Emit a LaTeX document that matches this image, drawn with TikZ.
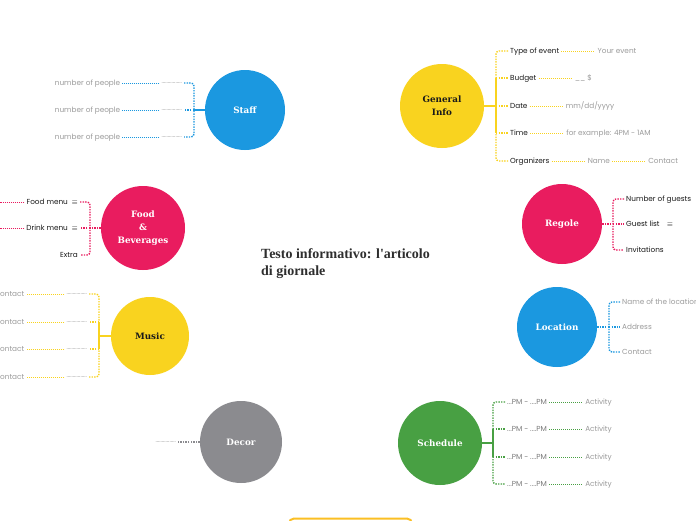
\documentclass[tikz,border=0pt]{standalone}
\usepackage{fontspec}
\setsansfont{Poppins}
\newfontfamily\hubfont{DejaVu Serif}
\newfontfamily\titlefont{Liberation Serif}
\usetikzlibrary{positioning,calc}

\definecolor{mmblue}{HTML}{1B98E0}
\definecolor{mmyellow}{HTML}{F9D31F}
\definecolor{mmpink}{HTML}{E91C5F}
\definecolor{mmgreen}{HTML}{48A043}
\definecolor{mmgray}{HTML}{8B8B8F}
\definecolor{mmorange}{HTML}{FBBF24}
\definecolor{labeldark}{HTML}{1A1A1A}
\definecolor{labelgray}{HTML}{9B9B9B}
\definecolor{labelmid}{HTML}{7A7A7A}
\definecolor{dotgray}{HTML}{8F8F8F}
\definecolor{titleink}{HTML}{2E2E2E}

\begin{document}
\begin{tikzpicture}[x=1pt, y=-1pt,
  hub/.style={circle, inner sep=0pt, align=center, text=white, font=\hubfont\bfseries\fontsize{8.8}{13}\selectfont},
  lbl/.style={inner sep=2pt, text height=5.5pt, text depth=1.5pt, font=\sffamily\fontsize{7.3}{8}\selectfont, text=labeldark},
  hint/.style={lbl, text=labelgray},
  dots/.style={inner sep=2pt, font=\sffamily\fontsize{6}{6}\selectfont, text=dotgray},
  trunk/.style={line width=1.6pt},
  brk/.style={line width=1.4pt, dash pattern=on 1.4pt off 1.2pt, rounded corners=3pt},
  leaf/.style={line width=1pt, dash pattern=on 1pt off 1pt}]

  \useasboundingbox[fill=white] (0,0) rectangle (696,520);

  % title
  \node[anchor=west, inner sep=0pt, align=left, text=titleink, font=\titlefont\bfseries\fontsize{14}{17}\selectfont] (title) at (261,264) {Testo informativo: l'articolo\\di giornale};

  % Staff
  \node[hub, fill=mmblue, minimum size=80pt] (staff) at (245,110) {Staff};
  \coordinate (jst) at (194,110);
  \node[dots, anchor=east] (st1) at (184,83) {................};
  \node[dots, anchor=east] (st2) at (184,110) {................};
  \node[dots, anchor=east] (st3) at (184,137) {................};
  \node[hint, left=37pt of st1] (st1c) {number of people};
  \node[hint, left=37pt of st2] (st2c) {number of people};
  \node[hint, left=37pt of st3] (st3c) {number of people};
  \draw[trunk, mmblue] (staff) -- (jst);
  \draw[brk, mmblue] (st1.east) -| (jst) |- (st3.east);
  \draw[brk, mmblue] (jst) -- (st2.east);
  \draw[leaf, mmblue] (st1) -- (st1c);
  \draw[leaf, mmblue] (st2) -- (st2c);
  \draw[leaf, mmblue] (st3) -- (st3c);

  % General Info
  \node[hub, fill=mmyellow, text=labeldark, minimum size=84pt] (general) at (442,106) {General\\Info};
  \coordinate (jgi) at (496,106);
  \node[lbl, anchor=west] (gi1) at (508,51) {Type of event};
  \node[lbl, anchor=west] (gi2) at (508,78) {Budget};
  \node[lbl, anchor=west] (gi3) at (508,106) {Date};
  \node[lbl, anchor=west] (gi4) at (508,133) {Time};
  \node[lbl, anchor=west] (gi5) at (508,161) {Organizers};
  \node[hint, right=34pt of gi1] (gi1c) {Your event};
  \node[hint, right=34pt of gi2] (gi2c) {\_\_ \$};
  \node[hint, right=34pt of gi3] (gi3c) {mm/dd/yyyy};
  \node[hint, right=34pt of gi4] (gi4c) {for example: 4PM - 1AM};
  \node[hint, right=34pt of gi5] (gi5c) {Name};
  \node[hint, right=34pt of gi5c] (gi5d) {Contact};
  \draw[trunk, mmyellow] (general) -- (jgi);
  \draw[trunk, mmyellow] (jgi |- gi2.west) -- (jgi |- gi4.west);
  \draw[brk, mmyellow] (gi1.west) -| (jgi) |- (gi5.west);
  \draw[brk, mmyellow] (jgi |- gi2.west) -- (gi2.west);
  \draw[brk, mmyellow] (jgi) -- (gi3.west);
  \draw[brk, mmyellow] (jgi |- gi4.west) -- (gi4.west);
  \draw[leaf, mmyellow] (gi1) -- (gi1c);
  \draw[leaf, mmyellow] (gi2) -- (gi2c);
  \draw[leaf, mmyellow] (gi3) -- (gi3c);
  \draw[leaf, mmyellow] (gi4) -- (gi4c);
  \draw[leaf, mmyellow] (gi5) -- (gi5c);
  \draw[leaf, mmyellow] (gi5c) -- (gi5d);

  % Food & Beverages
  \node[hub, fill=mmpink, minimum size=84pt] (food) at (143,228) {Food\\\&\\Beverages};
  \coordinate (jfb) at (90,228);
  \node[lbl, anchor=east] (fb1) at (80,202) {Food menu\enspace$\equiv$};
  \node[lbl, anchor=east] (fb2) at (80,228) {Drink menu\enspace$\equiv$};
  \node[lbl, anchor=east] (fb3) at (80,255) {Extra};
  \coordinate (fb1x) at (0,202);
  \coordinate (fb2x) at (0,228);
  \draw[brk, mmpink] (food) -- (jfb);
  \draw[brk, mmpink] (fb1.east) -| (jfb) |- (fb3.east);
  \draw[brk, mmpink] (jfb) -- (fb2.east);
  \draw[leaf, mmpink] (fb1) -- (fb1x);
  \draw[leaf, mmpink] (fb2) -- (fb2x);

  % Music
  \node[hub, fill=mmyellow, text=labeldark, minimum size=78pt] (music) at (150,336) {Music};
  \coordinate (jmu) at (99,336);
  \node[dots, anchor=east] (mu1) at (89,294) {................};
  \node[dots, anchor=east] (mu2) at (89,322) {................};
  \node[dots, anchor=east] (mu3) at (89,349) {................};
  \node[dots, anchor=east] (mu4) at (89,377) {................};
  \node[hint, left=38pt of mu1] (mu1c) {Contact};
  \node[hint, left=38pt of mu2] (mu2c) {Contact};
  \node[hint, left=38pt of mu3] (mu3c) {Contact};
  \node[hint, left=38pt of mu4] (mu4c) {Contact};
  \draw[trunk, mmyellow] (music) -- (jmu);
  \draw[trunk, mmyellow] (jmu |- mu2.east) -- (jmu |- mu3.east);
  \draw[brk, mmyellow] (mu1.east) -| (jmu) |- (mu4.east);
  \draw[brk, mmyellow] (jmu |- mu2.east) -- (mu2.east);
  \draw[brk, mmyellow] (jmu |- mu3.east) -- (mu3.east);
  \draw[leaf, mmyellow] (mu1) -- (mu1c);
  \draw[leaf, mmyellow] (mu2) -- (mu2c);
  \draw[leaf, mmyellow] (mu3) -- (mu3c);
  \draw[leaf, mmyellow] (mu4) -- (mu4c);

  % Regole
  \node[hub, fill=mmpink, minimum size=80pt] (regole) at (562,224) {Regole};
  \coordinate (jre) at (613,224);
  \node[lbl, anchor=west] (re1) at (624,199) {Number of guests};
  \node[lbl, anchor=west] (re2) at (624,224) {Guest list\quad$\equiv$};
  \node[lbl, anchor=west] (re3) at (624,250) {Invitations};
  \draw[brk, mmpink] (regole) -- (jre);
  \draw[brk, mmpink] (re1.west) -| (jre) |- (re3.west);
  \draw[brk, mmpink] (jre) -- (re2.west);

  % Location
  \node[hub, fill=mmblue, minimum size=80pt] (location) at (557,327) {Location};
  \coordinate (jlo) at (609,327);
  \node[hint, anchor=west] (lo1) at (620,302) {Name of the location};
  \node[hint, anchor=west] (lo2) at (620,327) {Address};
  \node[hint, anchor=west] (lo3) at (620,352) {Contact};
  \draw[brk, mmblue] (location) -- (jlo);
  \draw[brk, mmblue] (lo1.west) -| (jlo) |- (lo3.west);
  \draw[brk, mmblue] (jlo) -- (lo2.west);

  % Schedule
  \node[hub, fill=mmgreen, minimum size=84pt] (schedule) at (440,443) {Schedule};
  \coordinate (jsc) at (493,443);
  \node[lbl, text=labelmid, anchor=west] (sc1) at (505,402) {...PM - ....PM};
  \node[lbl, text=labelmid, anchor=west] (sc2) at (505,429) {...PM - ....PM};
  \node[lbl, text=labelmid, anchor=west] (sc3) at (505,457) {...PM - ....PM};
  \node[lbl, text=labelmid, anchor=west] (sc4) at (505,484) {...PM - ....PM};
  \node[hint, right=34pt of sc1] (sc1c) {Activity};
  \node[hint, right=34pt of sc2] (sc2c) {Activity};
  \node[hint, right=34pt of sc3] (sc3c) {Activity};
  \node[hint, right=34pt of sc4] (sc4c) {Activity};
  \draw[trunk, mmgreen] (schedule) -- (jsc);
  \draw[trunk, mmgreen] (jsc |- sc2.west) -- (jsc |- sc3.west);
  \draw[brk, mmgreen] (sc1.west) -| (jsc) |- (sc4.west);
  \draw[brk, mmgreen] (jsc |- sc2.west) -- (sc2.west);
  \draw[brk, mmgreen] (jsc |- sc3.west) -- (sc3.west);
  \draw[leaf, mmgreen] (sc1) -- (sc1c);
  \draw[leaf, mmgreen] (sc2) -- (sc2c);
  \draw[leaf, mmgreen] (sc3) -- (sc3c);
  \draw[leaf, mmgreen] (sc4) -- (sc4c);

  % Decor
  \node[hub, fill=mmgray, minimum size=82pt] (decor) at (241,442) {Decor};
  \node[dots, anchor=east] (de1) at (178,442) {................};
  \draw[brk, mmgray] (decor) -- (de1);

  % box cut by the lower edge
  \draw[line width=2pt, mmorange, rounded corners=5pt] (289,518.5) rectangle (412,560);
\end{tikzpicture}
\end{document}
